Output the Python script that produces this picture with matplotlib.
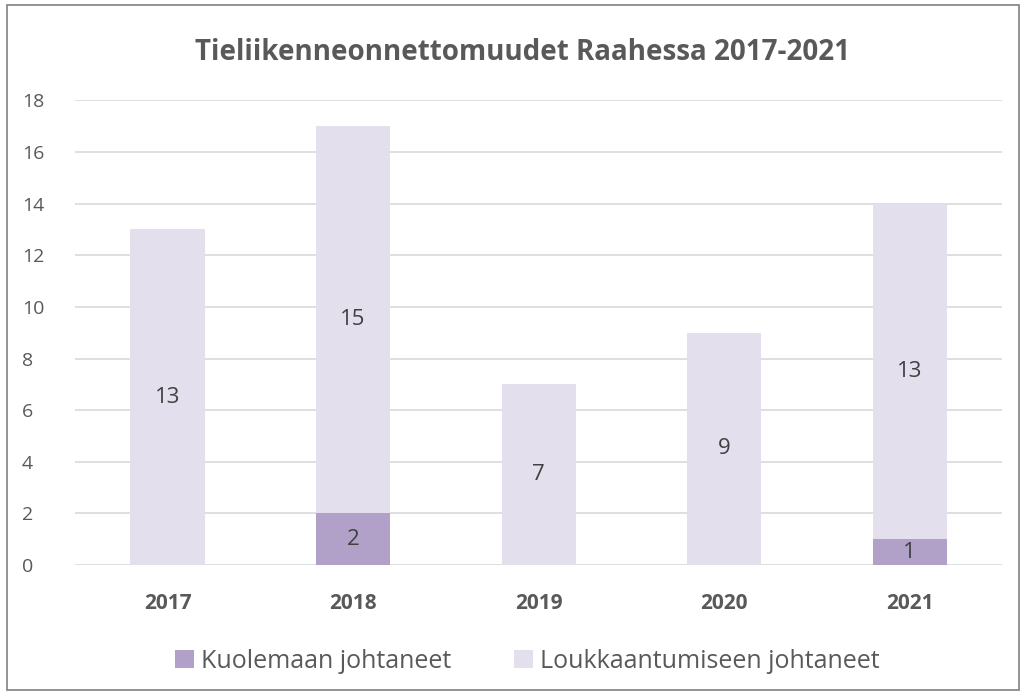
import matplotlib.pyplot as plt
from matplotlib.patches import Rectangle

# data
years = ["2017", "2018", "2019", "2020", "2021"]
kuolema = [0, 2, 0, 0, 1]
loukkaantuminen = [13, 15, 7, 9, 13]

dark = "#b1a0c7"
light = "#e4dfec"
txt = "#595959"

plt.rcParams['font.family'] = ['Open Sans', 'DejaVu Sans']

fig = plt.figure(figsize=(10.24, 6.96), dpi=100)
ax = fig.add_axes([0.073, 0.188, 0.906, 0.668])

x = range(len(years))
b1 = ax.bar(x, kuolema, width=0.4, color=dark, label="Kuolemaan johtaneet", zorder=3)
b2 = ax.bar(x, loukkaantuminen, width=0.4, bottom=kuolema, color=light,
            label="Loukkaantumiseen johtaneet", zorder=3)

for i in x:
    if kuolema[i] > 0:
        ax.text(i, kuolema[i] / 2, str(kuolema[i]), ha='center', va='center',
                fontsize=16, color="#404040", zorder=4)
    ax.text(i, kuolema[i] + loukkaantuminen[i] / 2, str(loukkaantuminen[i]),
            ha='center', va='center', fontsize=16, color="#404040", zorder=4)

ax.set_ylim(0, 18)
ax.set_xlim(-0.5, 4.5)
ax.set_yticks(range(0, 19, 2))
ax.set_xticks(list(x))
ax.set_xticklabels(years, fontweight='bold', fontsize=15, color=txt)
ax.tick_params(axis='y', labelsize=14, labelcolor=txt, length=0, pad=38)
ax.tick_params(axis='x', length=0, pad=20)
for lbl in ax.get_yticklabels():
    lbl.set_horizontalalignment('left')
ax.yaxis.grid(True, color="#d9d9d9", linewidth=1.2, zorder=0)
for s in ax.spines.values():
    s.set_visible(False)

fig.text(0.51, 0.925, "Tieliikenneonnettomuudet Raahessa 2017-2021", ha='center',
         va='center', fontsize=20, fontweight='bold', color=txt)

fig.legend(handles=[b1, b2], loc='center', bbox_to_anchor=(0.515, 0.05), ncol=2,
           frameon=False, fontsize=18, labelcolor=txt, handlelength=0.75,
           handleheight=0.75, handletextpad=0.3, columnspacing=2.5)

fig.patches.append(Rectangle((0.007, 0.008), 0.988, 0.985, transform=fig.transFigure,
                             fill=False, edgecolor="#808080", linewidth=1.2))

fig.savefig("out.png", dpi=100)
